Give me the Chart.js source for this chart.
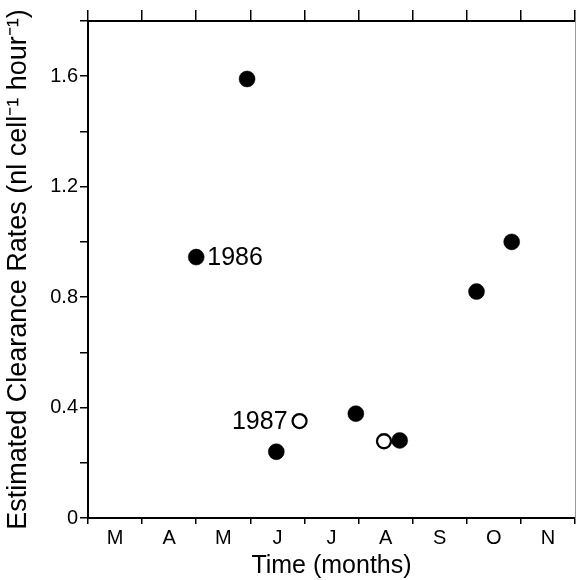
<!DOCTYPE html>
<html>
<head>
<meta charset="utf-8">
<script src="https://cdn.jsdelivr.net/npm/chart.js@4.4.0/dist/chart.umd.min.js"></script>
<style>
html,body{margin:0;padding:0;background:#fff;}
canvas{display:block;}
</style>
</head>
<body>
<canvas id="c" width="576" height="580"></canvas>
<script>
const monthLabels = ['M','A','M','J','J','A','S','O','N'];
const filled1986X = [2.00, 2.94, 3.48, 4.95, 5.76, 7.18, 7.83];
const filled1986Y = [0.945, 1.59, 0.24, 0.378, 0.281, 0.82, 1.0];
const open1987X = [3.91, 5.47];
const open1987Y = [0.351, 0.278];
const yTickLabels = ['0','0.4','0.8','1.2','1.6'];

const FONT = "'Liberation Sans', Arial, Helvetica, sans-serif";

function pts(xs, ys){ return xs.map((x,i)=>({x:x, y:ys[i]})); }

const yearLabels = {
  id:'yearLabels',
  afterDatasetsDraw(chart){
    const ctx = chart.ctx;
    ctx.save();
    ctx.fillStyle = '#000';
    ctx.font = '25px ' + FONT;
    ctx.textBaseline = 'middle';
    const p86 = chart.getDatasetMeta(0).data[0];
    ctx.textAlign = 'left';
    ctx.fillText('1986', p86.x + 11, p86.y + 1);
    const p87 = chart.getDatasetMeta(1).data[0];
    ctx.textAlign = 'right';
    ctx.fillText('1987', p87.x - 12, p87.y + 1);
    ctx.restore();
  }
};

const isInt = v => Math.abs(v - Math.round(v)) < 1e-6;
const fitH = h => s => { s.height = h; s.paddingLeft = 0; s.paddingRight = 0; s.paddingTop = 0; s.paddingBottom = 0; };
const fitW = w => s => { s.width = w; s.paddingLeft = 0; s.paddingRight = 0; s.paddingTop = 0; s.paddingBottom = 0; };

new Chart(document.getElementById('c'), {
  type: 'scatter',
  data: {
    datasets: [
      {
        label: '1986',
        data: pts(filled1986X, filled1986Y),
        xAxisID: 'x', yAxisID: 'y',
        pointRadius: 8,
        pointBackgroundColor: '#000',
        pointBorderColor: '#000',
        pointBorderWidth: 0.5
      },
      {
        label: '1987',
        data: pts(open1987X, open1987Y),
        xAxisID: 'x', yAxisID: 'y',
        pointRadius: 7,
        pointBackgroundColor: '#fff',
        pointBorderColor: '#000',
        pointBorderWidth: 2.3
      }
    ]
  },
  options: {
    responsive: false,
    animation: false,
    layout: { padding: 0, autoPadding: false },
    plugins: { legend: { display: false }, tooltip: { enabled: false } },
    scales: {
      x: {
        type: 'linear', position: 'bottom', min: 0, max: 9,
        afterFit: fitH(62),
        border: { display: true, color: '#000', width: 2 },
        grid: {
          drawOnChartArea: false, drawTicks: true, tickLength: 6,
          tickColor: ctx => (ctx.tick && isInt(ctx.tick.value)) ? '#000' : 'rgba(0,0,0,0)',
          lineWidth: 1.5
        },
        ticks: {
          stepSize: 0.5, autoSkip: false, maxRotation: 0, padding: 2,
          color: '#000', font: { family: FONT, size: 20 },
          callback: v => isInt(v) ? '' : monthLabels[Math.floor(v)] || ''
        },
        title: {
          display: true, text: 'Time (months)', color: '#000',
          font: { family: FONT, size: 25 }, padding: { top: 0, bottom: -1 }
        }
      },
      xTop: {
        type: 'linear', position: 'top', min: 0, max: 9,
        afterFit: fitH(21),
        border: { display: true, color: '#000', width: 2 },
        grid: { drawOnChartArea: false, drawTicks: true, tickLength: 11, color: '#000', lineWidth: 1.5 },
        ticks: { stepSize: 1, display: false }
      },
      y: {
        type: 'linear', position: 'left', min: 0, max: 1.8,
        afterFit: fitW(88),
        border: { display: true, color: '#000', width: 2 },
        grid: { drawOnChartArea: false, drawTicks: true, tickLength: 8, color: '#000', lineWidth: 1.5 },
        ticks: {
          stepSize: 0.2, padding: 2, color: '#000', font: { family: FONT, size: 20 },
          callback: v => {
            const k = v / 0.4;
            return isInt(k) ? (yTickLabels[Math.round(k)] || '') : '';
          }
        },
        title: {
          display: true, text: 'Estimated Clearance Rates (nl cell\u207B\u00B9 hour\u207B\u00B9)',
          color: '#000', font: { family: FONT, size: 27 }, padding: { top: 2, bottom: 0 }
        }
      },
      yRight: {
        type: 'linear', position: 'right', min: 0, max: 1.8,
        afterFit: fitW(1),
        border: { display: true, color: '#999', width: 1 },
        grid: { display: false },
        ticks: { display: false }
      }
    }
  },
  plugins: [yearLabels]
});
</script>
</body>
</html>
